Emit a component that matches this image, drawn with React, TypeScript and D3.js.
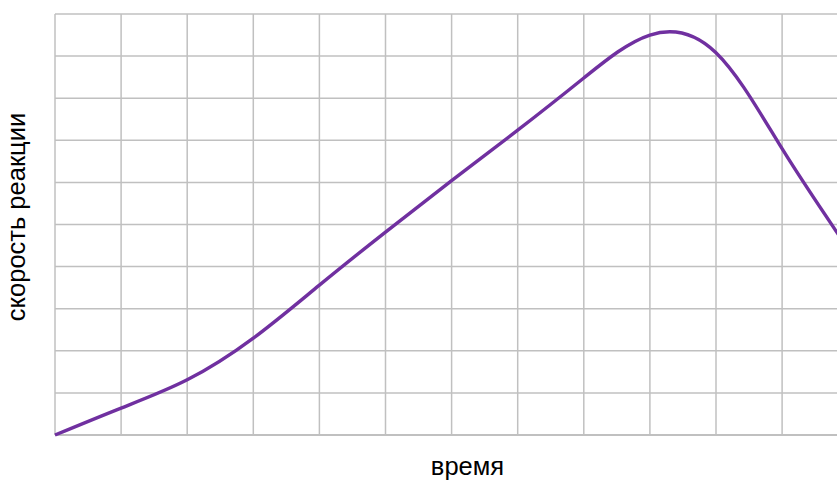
import React from "react";
import * as d3 from "d3";

const timeValues = [0, 1, 2, 3, 4, 5, 6, 7, 8, 9, 10, 11, 12];
const rateValues = [0, 0.64, 1.31, 2.3, 3.56, 4.82, 6.04, 7.24, 8.48, 9.5, 9.08, 6.8, 4.42];
const xGridTicks = d3.range(0, 13);
const yGridTicks = d3.range(0, 11);
const xLabel = "время";
const yLabel = "скорость реакции";

const W = 837;
const H = 483;

export default function App() {
  const x = d3.scaleLinear().domain([0, 12]).range([55, 55 + 12 * 66.1]);
  const y = d3.scaleLinear().domain([0, 10]).range([435, 14]);
  const data = timeValues.map((t, i) => [t, rateValues[i]] as [number, number]);
  const line = d3
    .line<[number, number]>()
    .x((d) => x(d[0]))
    .y((d) => y(d[1]))
    .curve(d3.curveNatural);

  return (
    <svg
      width={W}
      height={H}
      style={{ position: "absolute", left: 0, top: 0, background: "#fff" }}
      fontFamily="'Liberation Sans', Arial, sans-serif"
    >
      <defs>
        <clipPath id="clip">
          <rect x={0} y={0} width={W} height={H} />
        </clipPath>
      </defs>
      <g>
        {xGridTicks.map((t) => (
          <line key={"v" + t} x1={x(t)} x2={x(t)} y1={y(10)} y2={y(0)} stroke="#c0c0c0" strokeWidth={1.5} />
        ))}
        {yGridTicks.map((t) => (
          <line
            key={"h" + t}
            x1={x(0)}
            x2={W}
            y1={y(t)}
            y2={y(t)}
            stroke="#c0c0c0"
            strokeWidth={t === 0 ? 2.2 : 1.5}
          />
        ))}
      </g>
      <path d={line(data) || ""} fill="none" stroke="#7030a0" strokeWidth={3.4} clipPath="url(#clip)" />
      <text x={467.5} y={475} textAnchor="middle" fontSize={25.5} fill="#000">
        {xLabel}
      </text>
      <text
        transform={`translate(25,217) rotate(-90)`}
        textAnchor="middle"
        fontSize={25.5}
        fill="#000"
      >
        {yLabel}
      </text>
    </svg>
  );
}
